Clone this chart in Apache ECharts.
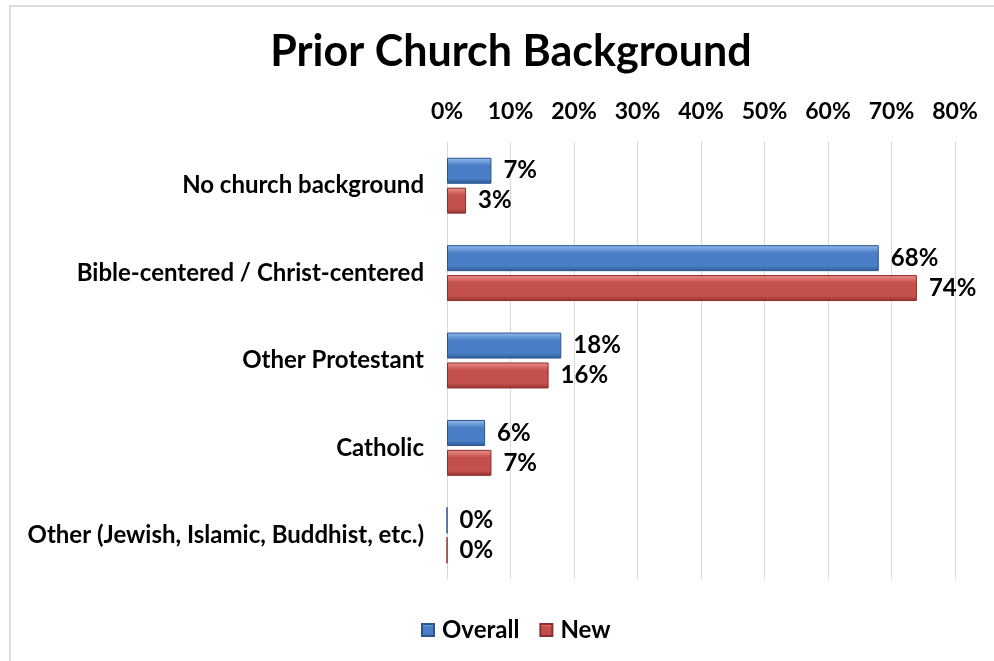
<!DOCTYPE html>
<html>
<head>
<meta charset="utf-8">
<script src="https://cdn.jsdelivr.net/npm/echarts@6/dist/echarts.min.js"></script>
<style>
html,body{margin:0;padding:0;background:#fff;}
#chart{width:994px;height:661px;}
</style>
</head>
<body>
<div id="chart"></div>
<script>
const categories = [
  'No church background',
  'Bible-centered / Christ-centered',
  'Other Protestant',
  'Catholic',
  'Other (Jewish, Islamic, Buddhist, etc.)'
];
const overallValues = [7, 68, 18, 6, 0];
const newValues = [3, 74, 16, 7, 0];
const seriesNames = ['Overall', 'New'];
const axisMin = 0, axisMax = 80, axisStep = 10;

const FONT = 'Lato';
function grad(top, mid, bot) {
  return new echarts.graphic.LinearGradient(0, 0, 0, 1, [
    {offset: 0, color: top},
    {offset: 0.3, color: mid},
    {offset: 0.8, color: mid},
    {offset: 1, color: bot}
  ]);
}
const blueFill = grad('#95bdef', '#4a7ec6', '#2c5a96');
const redFill = grad('#ee908c', '#c4504c', '#93312e');

const chart = echarts.init(document.getElementById('chart'));
const labelStyle = {
  show: true, position: 'right', distance: 12,
  formatter: '{c}%',
  fontFamily: FONT, fontWeight: 'bold', fontSize: 24, color: '#000'
};
chart.setOption({
  animation: false,
  backgroundColor: '#fff',
  title: {
    text: 'Prior Church Background',
    left: 506, top: 26, textAlign: 'center',
    textStyle: {fontFamily: FONT, fontWeight: 'bold', fontSize: 43, color: '#000'}
  },
  graphic: [{
    type: 'rect', silent: true, z: -1,
    shape: {x: 10, y: 6, width: 1000, height: 700},
    style: {fill: 'none', stroke: '#dcdcdc', lineWidth: 2}
  }],
  legend: {
    data: seriesNames,
    left: 416, top: 613,
    itemWidth: 12, itemHeight: 12, itemGap: 20,
    icon: 'rect',
    textStyle: {fontFamily: FONT, fontWeight: 'bold', fontSize: 24, color: '#000', padding: [0,0,0,3]}
  },
  grid: {left: 447, right: 39, top: 142, bottom: 82, containLabel: false},
  xAxis: {
    type: 'value', position: 'top',
    min: axisMin, max: axisMax, interval: axisStep,
    axisLine: {show: false}, axisTick: {show: false},
    splitLine: {show: true, lineStyle: {color: '#d9d9d9', width: 1}},
    axisLabel: {
      formatter: '{value}%', margin: 19,
      fontFamily: FONT, fontWeight: 'bold', fontSize: 23, color: '#000'
    }
  },
  yAxis: {
    type: 'category', data: categories, inverse: true,
    axisLine: {show: true, lineStyle: {color: '#d9d9d9'}},
    axisTick: {show: false},
    axisLabel: {
      margin: 23,
      fontFamily: FONT, fontWeight: 'bold', fontSize: 24, color: '#000'
    }
  },
  series: [
    {
      name: seriesNames[0], type: 'bar', data: overallValues,
      barWidth: 26, barGap: '15%',
      itemStyle: {color: blueFill, borderColor: '#2b5690', borderWidth: 1},
      label: labelStyle
    },
    {
      name: seriesNames[1], type: 'bar', data: newValues,
      barWidth: 26, barGap: '15%',
      itemStyle: {color: redFill, borderColor: '#8c2e2b', borderWidth: 1},
      label: labelStyle
    }
  ]
});
</script>
</body>
</html>
